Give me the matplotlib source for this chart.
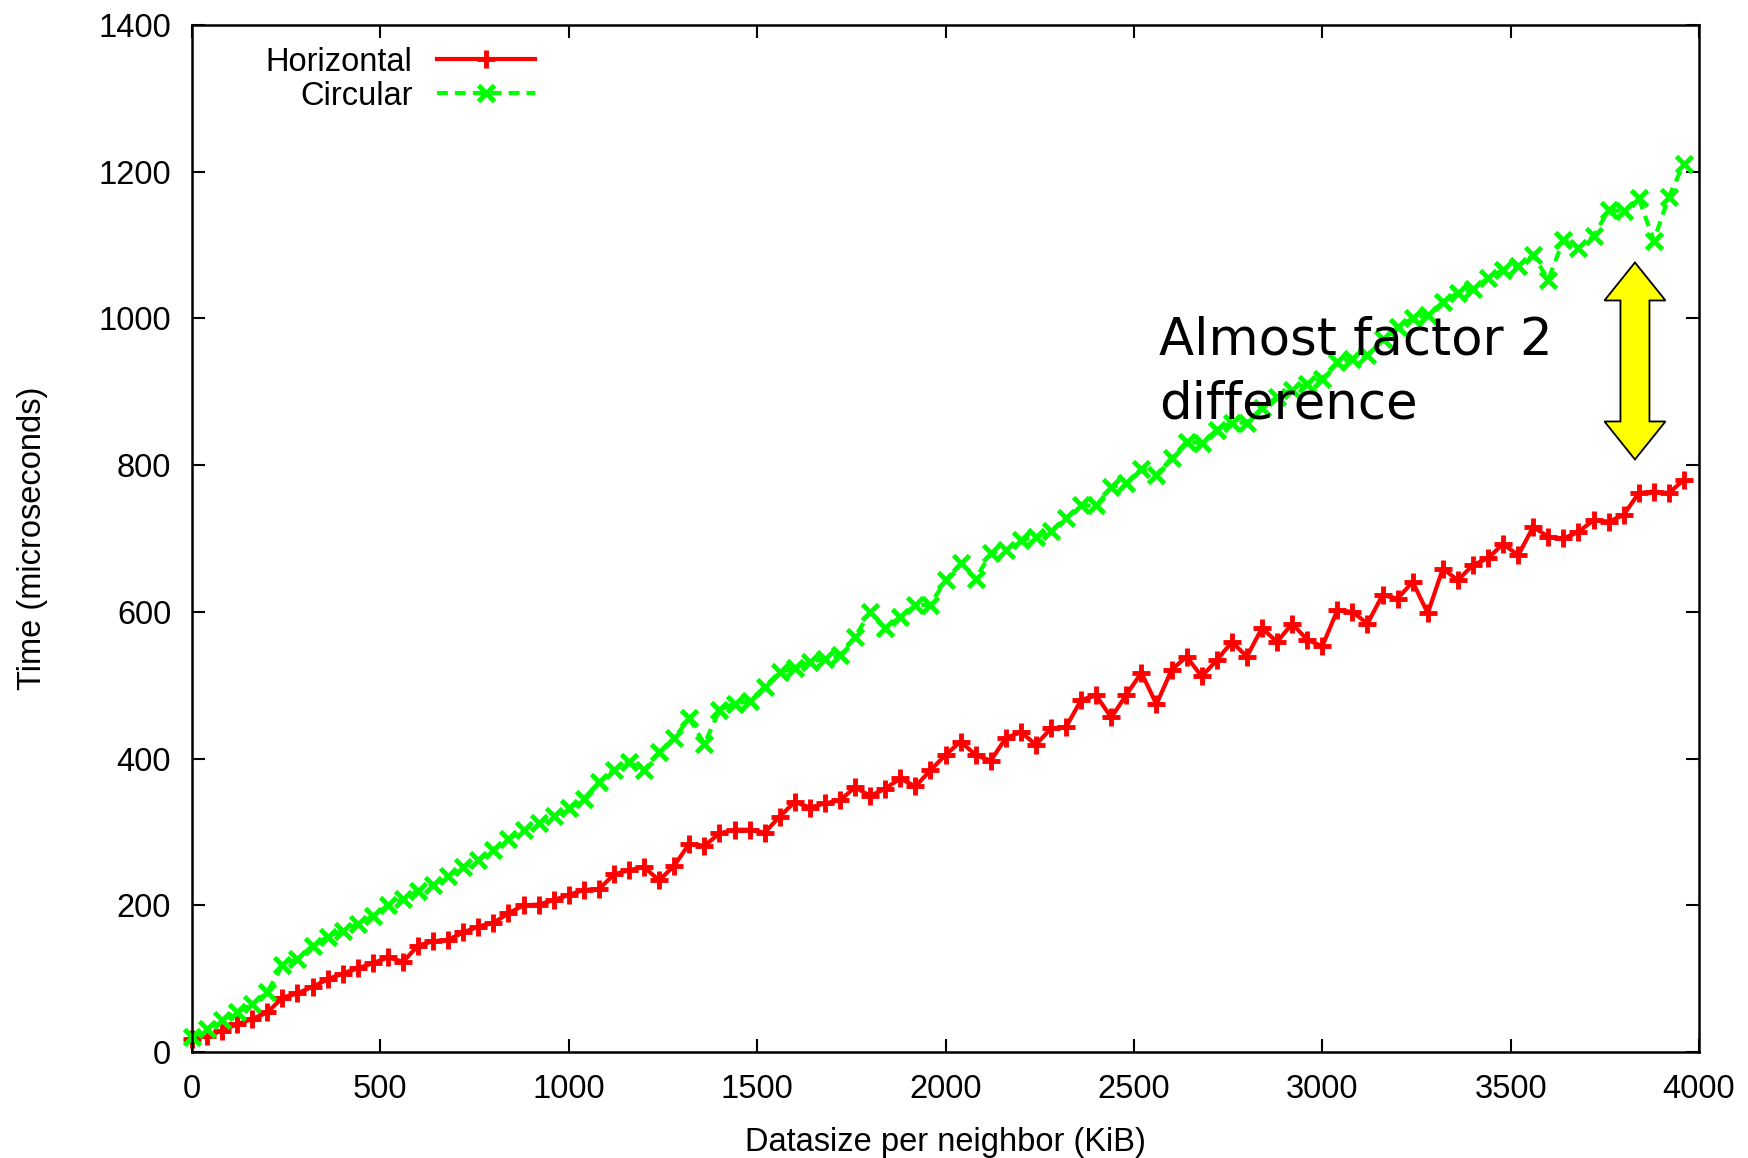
import matplotlib
matplotlib.use("Agg")
import matplotlib.pyplot as plt
from matplotlib.patches import Polygon
from matplotlib.transforms import ScaledTranslation

# datasize per neighbor (KiB), one sample every 40 KiB
datasize = list(range(0, 4000, 40))

horizontal = [18, 22, 29, 38, 45, 54, 74, 80, 89, 99,
              107, 114, 121, 129, 123, 145, 151, 153, 163, 171,
              176, 189, 200, 201, 207, 214, 221, 222, 242, 248,
              252, 234, 254, 284, 281, 298, 303, 303, 299, 321,
              341, 333, 339, 343, 361, 349, 359, 373, 362, 384,
              405, 423, 405, 397, 428, 436, 419, 441, 443, 480,
              486, 456, 487, 517, 474, 521, 539, 512, 534, 559,
              539, 578, 559, 584, 562, 553, 602, 600, 584, 623,
              618, 641, 598, 659, 643, 664, 673, 693, 677, 716,
              702, 700, 709, 725, 723, 732, 762, 764, 762, 780]

circular = [20, 32, 44, 54, 65, 82, 118, 127, 145, 157,
            165, 175, 185, 200, 208, 220, 228, 240, 252, 262,
            275, 290, 303, 312, 322, 332, 345, 368, 385, 395,
            384, 409, 428, 455, 420, 466, 475, 478, 498, 518,
            523, 532, 536, 541, 566, 600, 578, 593, 609, 610,
            643, 666, 645, 680, 684, 698, 702, 710, 728, 745,
            745, 770, 775, 795, 787, 810, 832, 830, 848, 858,
            858, 878, 893, 903, 910, 918, 940, 945, 950, 972,
            988, 1000, 1005, 1022, 1035, 1040, 1055, 1066, 1072, 1086,
            1053, 1107, 1096, 1112, 1148, 1146, 1164, 1106, 1166, 1211]

x_ticks = [0, 500, 1000, 1500, 2000, 2500, 3000, 3500, 4000]
y_ticks = [0, 200, 400, 600, 800, 1000, 1200, 1400]

plt.rcParams['font.family'] = ['Liberation Sans', 'DejaVu Sans']

fig = plt.figure(figsize=(17.48, 11.58), dpi=100)
ax = fig.add_axes([0.10984, 0.09154, 0.86213, 0.88687])

ax.plot(datasize, horizontal, color='#ff0000', lw=3, marker='+',
        markersize=13, mew=3.5, label='Horizontal', clip_on=False)
ax.plot(datasize, circular, color='#00ff00', lw=3, marker='x',
        markersize=12, mew=3.5, dashes=(2.6, 1.7), label='Circular', clip_on=False)

ax.set_xlim(0, 4000)
ax.set_ylim(0, 1400)
ax.set_xticks(x_ticks)
ax.set_yticks(y_ticks)
ax.tick_params(direction='in', length=9.5, width=1.5, top=True, right=True,
               labelsize=23.5)
ax.tick_params(axis='y', pad=15)
ax.tick_params(axis='x', pad=16)
for sp in ax.spines.values():
    sp.set_linewidth(1.8)

ax.set_xlabel("Datasize per neighbor (KiB)", fontsize=23.5, labelpad=16)
ax.set_ylabel("Time (microseconds)", fontsize=23.5, labelpad=36)

ax.legend(loc='upper right', bbox_to_anchor=(0.2276, 0.979), frameon=False,
          markerfirst=False, fontsize=23.5, handlelength=3.0, handletextpad=0.75,
          labelspacing=0.1, borderpad=0, borderaxespad=0)

# annotation
ax.text(2567, 951, "Almost factor 2", fontsize=37, family='DejaVu Sans',
        va='baseline', ha='left')
ax.text(2567, 864, "difference", fontsize=37, family='DejaVu Sans',
        va='baseline', ha='left')

# yellow double-headed arrow, sized in inches around a data-anchored centre
hs, hh, half_len, head_len = 0.145, 0.305, 0.985, 0.38
verts = [(0, half_len), (hh, half_len - head_len), (hs, half_len - head_len),
         (hs, -(half_len - head_len)), (hh, -(half_len - head_len)), (0, -half_len),
         (-hh, -(half_len - head_len)), (-hs, -(half_len - head_len)),
         (-hs, half_len - head_len), (-hh, half_len - head_len)]
trans = fig.dpi_scale_trans + ScaledTranslation(3830, 942, ax.transData)
ax.add_patch(Polygon(verts, closed=True, fc='#ffff00', ec='black', lw=1.3,
                     transform=trans, clip_on=False))

fig.savefig("out.png", dpi=100)
